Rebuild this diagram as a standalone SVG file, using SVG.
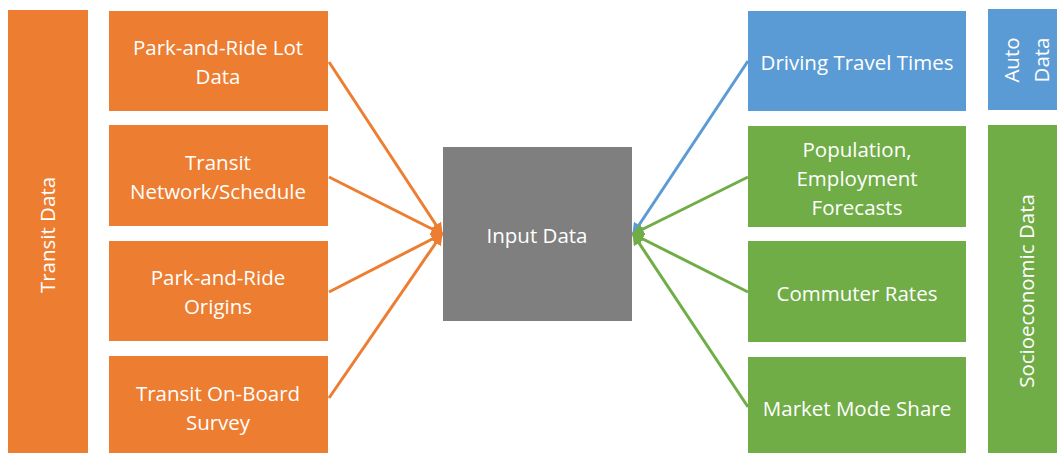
<svg xmlns="http://www.w3.org/2000/svg" width="1057" height="453" viewBox="0 0 1057 453">
<defs>
<style>
.t{font-family:"Open Sans","Liberation Sans",sans-serif;font-size:20.5px;fill:#fff;text-anchor:middle}
.o{fill:#ED7D31}.b{fill:#5B9BD5}.g{fill:#70AD47}
.lo{stroke:#ED7D31;stroke-width:3;fill:none}
.lb{stroke:#5B9BD5;stroke-width:3;fill:none}
.lg{stroke:#70AD47;stroke-width:3;fill:none}
</style>
<marker id="ao" viewBox="0 0 10 10" refX="9" refY="5" markerWidth="4" markerHeight="4" orient="auto"><path d="M0,0 L10,5 L0,10 z" fill="#ED7D31"/></marker>
<marker id="ab" viewBox="0 0 10 10" refX="9" refY="5" markerWidth="4" markerHeight="4" orient="auto"><path d="M0,0 L10,5 L0,10 z" fill="#5B9BD5"/></marker>
<marker id="ag" viewBox="0 0 10 10" refX="9" refY="5" markerWidth="4" markerHeight="4" orient="auto"><path d="M0,0 L10,5 L0,10 z" fill="#70AD47"/></marker>
</defs>
<rect width="1057" height="453" fill="#fff"/>
<g id="transit-data"><rect class="o" x="8" y="10" width="80" height="450"/><text class="t" transform="translate(55,235) rotate(-90)">Transit Data</text></g>
<g id="pnr-lot"><rect class="o" x="109" y="11" width="219" height="100"/><text class="t" x="218" y="55">Park-and-Ride Lot</text><text class="t" x="218" y="84">Data</text></g>
<g id="transit-network"><rect class="o" x="109" y="125" width="219" height="101"/><text class="t" x="218" y="170">Transit</text><text class="t" x="218" y="199">Network/Schedule</text></g>
<g id="pnr-origins"><rect class="o" x="109" y="241" width="219" height="100"/><text class="t" x="218" y="285">Park-and-Ride</text><text class="t" x="218" y="314">Origins</text></g>
<g id="onboard"><rect class="o" x="109" y="356" width="219" height="100"/><text class="t" x="218" y="401">Transit On-Board</text><text class="t" x="218" y="430">Survey</text></g>
<g id="input"><rect x="443" y="147" width="189" height="174" fill="#7F7F7F"/><text class="t" x="537" y="243">Input Data</text></g>
<g id="driving"><rect class="b" x="748" y="11" width="218" height="100"/><text class="t" x="857" y="70">Driving Travel Times</text></g>
<g id="population"><rect class="g" x="748" y="126" width="218" height="101"/><text class="t" x="857" y="157">Population,</text><text class="t" x="857" y="186">Employment</text><text class="t" x="857" y="215">Forecasts</text></g>
<g id="commuter"><rect class="g" x="748" y="241" width="218" height="101"/><text class="t" x="857" y="301">Commuter Rates</text></g>
<g id="market"><rect class="g" x="748" y="357" width="218" height="100"/><text class="t" x="857" y="416">Market Mode Share</text></g>
<g id="auto-data"><rect class="b" x="988" y="9" width="80" height="101"/><text class="t" transform="translate(1019,60) rotate(-90)">Auto</text><text class="t" transform="translate(1049,60) rotate(-90)">Data</text></g>
<g id="socio-data"><rect class="g" x="988" y="125" width="80" height="335"/><text class="t" transform="translate(1034,291) rotate(-90)">Socioeconomic Data</text></g>
<g id="connectors">
<line class="lo" x1="329" y1="62" x2="442" y2="234" marker-end="url(#ao)"/>
<line class="lo" x1="329" y1="177" x2="442" y2="234" marker-end="url(#ao)"/>
<line class="lo" x1="329" y1="292" x2="442" y2="234" marker-end="url(#ao)"/>
<line class="lo" x1="329" y1="398" x2="442" y2="234" marker-end="url(#ao)"/>
<line class="lb" x1="748" y1="61" x2="633" y2="234" marker-end="url(#ab)"/>
<line class="lg" x1="748" y1="177" x2="633" y2="234" marker-end="url(#ag)"/>
<line class="lg" x1="748" y1="292" x2="633" y2="234" marker-end="url(#ag)"/>
<line class="lg" x1="748" y1="407" x2="633" y2="234" marker-end="url(#ag)"/>
</g>
</svg>
